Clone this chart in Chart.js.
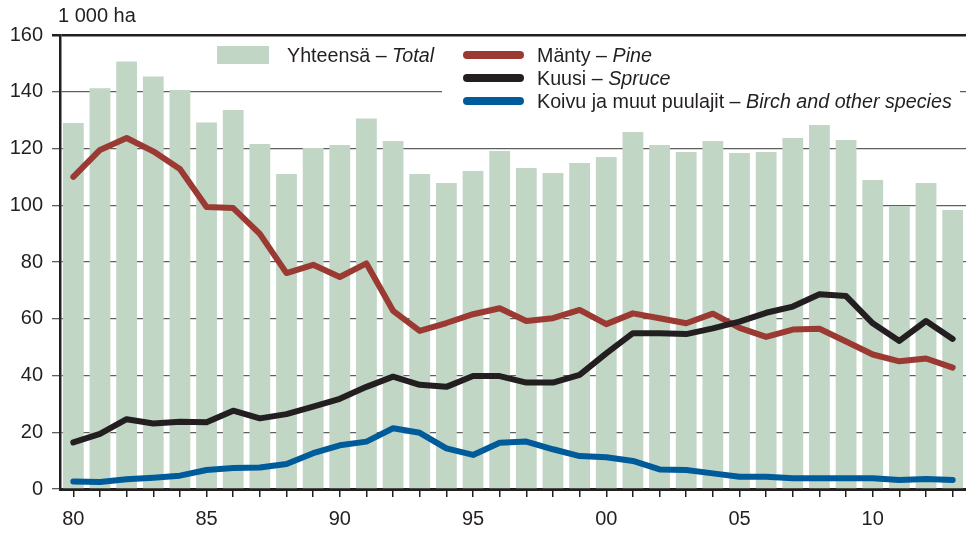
<!DOCTYPE html>
<html>
<head>
<meta charset="utf-8">
<script src="https://cdn.jsdelivr.net/npm/chart.js@4.4.1/dist/chart.umd.min.js"></script>
<style>
    body { margin: 0; background: #fff; }
    #wrap { position: relative; width: 966px; height: 539px; font-family: 'Liberation Sans', Arial, sans-serif; color: #231f20; }
    #wrap canvas { position: absolute; left: 0; top: 0; }
    .unit { position: absolute; left: 58px; top: 3px; font-size: 20px; line-height: 24px; }
    .legendBox { position: absolute; left: 442px; top: 42px; width: 518px; height: 70px; background: #fff; }
    .sw { position: absolute; }
    .lbl { position: absolute; font-size: 19.7px; line-height: 24px; white-space: nowrap; }
    .lbl i { font-style: italic; }
</style>
</head>
<body>
<div id="wrap">
    <canvas id="chart" width="966" height="539"></canvas>
    <div class="unit">1 000 ha</div>
    <div class="legendBox"></div>
    <div class="sw" style="left:217px;top:46px;width:52px;height:18px;background:#c1d6c4"></div>
    <div class="lbl" style="left:287px;top:43px">Yhteensä – <i>Total</i></div>
    <div class="sw" style="left:463px;top:51px;width:61px;height:8px;border-radius:4px;background:#9b3a32"></div>
    <div class="lbl" style="left:537px;top:43px">Mänty – <i>Pine</i></div>
    <div class="sw" style="left:463px;top:74px;width:61px;height:8px;border-radius:4px;background:#231f20"></div>
    <div class="lbl" style="left:537px;top:66px">Kuusi – <i>Spruce</i></div>
    <div class="sw" style="left:463px;top:97px;width:61px;height:8px;border-radius:4px;background:#005b9a"></div>
    <div class="lbl" style="left:537px;top:89px">Koivu ja muut puulajit – <i>Birch and other species</i></div>
</div>
<script>
// vuodet 1980-2013
const years = [1980, 1981, 1982, 1983, 1984, 1985, 1986, 1987, 1988, 1989,
    1990, 1991, 1992, 1993, 1994, 1995, 1996, 1997, 1998, 1999,
    2000, 2001, 2002, 2003, 2004, 2005, 2006, 2007, 2008, 2009,
    2010, 2011, 2012, 2013];

// Yhteensä - Total (1 000 ha)
const total = [129, 141.2, 150.7, 145.4, 140.6, 129.2, 133.6, 121.6, 111, 120.2,
    121.2, 130.6, 122.6, 111, 107.8, 112.1, 119.1, 113.1, 111.4, 114.9,
    117, 125.8, 121.2, 118.8, 122.6, 118.4, 118.8, 123.7, 128.3, 123,
    108.9, 99.7, 107.8, 98.3];

// Mänty - Pine
const pine = [110, 119.5, 123.7, 119, 112.8, 99.4, 99, 89.9, 76.1, 79,
    74.7, 79.5, 62.8, 55.7, 58.5, 61.6, 63.7, 59.2, 60.2, 63.1,
    58.1, 61.9, 60.2, 58.4, 61.8, 56.8, 53.6, 56.2, 56.5, 52,
    47.4, 45, 46, 42.8];

// Kuusi - Spruce
const spruce = [16.4, 19.4, 24.6, 23.1, 23.7, 23.5, 27.6, 24.9, 26.4, 29,
    31.8, 36, 39.6, 36.7, 36, 39.8, 39.8, 37.5, 37.5, 40.2,
    47.8, 54.9, 54.9, 54.6, 56.6, 59, 62.1, 64.3, 68.6, 68,
    58.4, 52.2, 59.2, 52.9];

// Koivu ja muut puulajit - Birch and other species
const birch = [2.6, 2.5, 3.4, 4, 4.7, 6.7, 7.4, 7.6, 8.8, 12.6,
    15.4, 16.7, 21.4, 19.8, 14.3, 12, 16.3, 16.7, 14, 11.6,
    11.2, 9.9, 6.9, 6.7, 5.5, 4.3, 4.3, 3.8, 3.8, 3.8,
    3.8, 3.2, 3.5, 3.2];

const yTicks = [0, 20, 40, 60, 80, 100, 120, 140, 160];

const ink = '#231f20';
const fontSpec = { family: "'Liberation Sans', Arial, sans-serif", size: 20 };

function lineSet(label, data, color) {
    return {
        type: 'line',
        label: label,
        data: data,
        borderColor: color,
        backgroundColor: color,
        borderWidth: 6,
        pointRadius: 0,
        tension: 0,
        borderCapStyle: 'round',
        borderJoinStyle: 'round',
        order: 1
    };
}

new Chart(document.getElementById('chart'), {
    type: 'bar',
    data: {
        labels: years.map(y => String(y).slice(2)),
        datasets: [
            {
                label: 'Yhteensä – Total',
                data: total,
                backgroundColor: '#c1d6c4',
                borderWidth: 0,
                barPercentage: 1,
                categoryPercentage: 0.78,
                order: 5
            },
            lineSet('Koivu ja muut puulajit – Birch and other species', birch, '#005b9a'),
            lineSet('Kuusi – Spruce', spruce, ink),
            lineSet('Mänty – Pine', pine, '#9b3a32')
        ]
    },
    options: {
        responsive: false,
        animation: false,
        layout: { padding: { top: 35, right: 0, left: 0, bottom: 0 } },
        plugins: {
            legend: { display: false },
            tooltip: { enabled: false }
        },
        scales: {
            x: {
                grid: {
                    offset: false,
                    drawOnChartArea: false,
                    drawTicks: true,
                    tickLength: 8,
                    color: ink,
                    lineWidth: 1.5
                },
                border: { color: ink, width: 3 },
                ticks: {
                    autoSkip: false,
                    maxRotation: 0,
                    padding: 10,
                    color: ink,
                    font: fontSpec,
                    callback: (val, i) => (years[i] % 5 === 0 ? String(years[i]).slice(2) : '')
                },
                afterFit: scale => { scale.height = 50; }
            },
            y: {
                min: 0,
                max: 160,
                afterBuildTicks: scale => { scale.ticks = yTicks.map(v => ({ value: v })); },
                grid: {
                    drawTicks: true,
                    tickLength: 8,
                    color: ctx => (ctx.tick && ctx.tick.value === 160 ? ink : '#5f5f5f'),
                    lineWidth: ctx => (ctx.tick && ctx.tick.value === 160 ? 2.5 : 1.3)
                },
                border: { color: ink, width: 2.5 },
                ticks: {
                    padding: 9,
                    color: ink,
                    font: fontSpec
                },
                afterFit: scale => { scale.width = 60; }
            }
        }
    }
});
</script>
</body>
</html>
